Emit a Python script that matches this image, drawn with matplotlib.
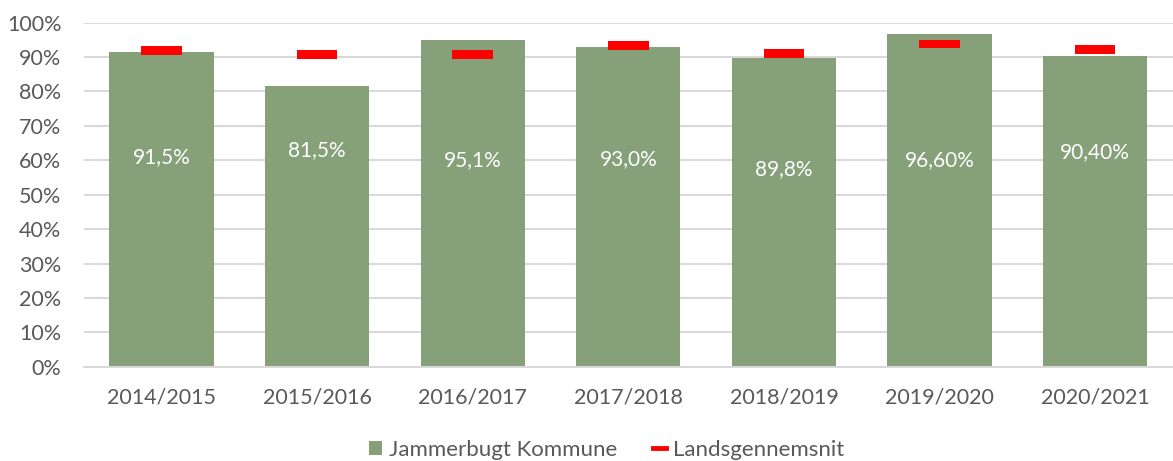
import matplotlib
matplotlib.use("Agg")
import matplotlib.pyplot as plt
from matplotlib.lines import Line2D
from matplotlib.patches import Patch
from matplotlib.ticker import PercentFormatter

plt.rcParams['font.family'] = ['Lato', 'DejaVu Sans']

years = ['2014/2015', '2015/2016', '2016/2017', '2017/2018', '2018/2019', '2019/2020', '2020/2021']
kommune = [91.5, 81.5, 95.1, 93.0, 89.8, 96.6, 90.4]
lands = [91.8, 90.8, 90.8, 93.4, 91.1, 93.8, 92.1]
bar_labels = ['91,5%', '81,5%', '95,1%', '93,0%', '89,8%', '96,60%', '90,40%']
# label heights inside the bars (manually placed in the original)
label_pos = [61, 63, 60, 60.4, 57.5, 60, 62.4]

green = '#86A07A'
grey_txt = '#595959'

fig = plt.figure(figsize=(11.73, 4.61), dpi=100)
ax = fig.add_axes([0.0713, 0.2045, 0.9287, 0.7463])

x = range(len(years))
ax.bar(x, kommune, width=0.67, color=green, zorder=2)
ax.bar(x, [2.6]*len(lands), bottom=[v - 1.3 for v in lands], width=0.26, color='#FF0000', zorder=3)

for i in x:
    ax.text(i, label_pos[i], bar_labels[i], ha='center', va='center', color='white', fontsize=15, zorder=4)

ax.set_xlim(-0.5, 6.5)
ax.set_ylim(0, 100)
ax.set_yticks(range(0, 101, 10))
ax.yaxis.set_major_formatter(PercentFormatter(decimals=0))
ax.set_xticks(list(x))
ax.set_xticklabels(years)
ax.tick_params(axis='both', length=0, labelsize=15.5, labelcolor=grey_txt)
ax.tick_params(axis='x', pad=15)
ax.tick_params(axis='y', pad=16)
ax.grid(axis='y', color='#D9D9D9', linewidth=1.5, zorder=0)
for s in ['top', 'right', 'left']:
    ax.spines[s].set_visible(False)
ax.spines['bottom'].set_color('#D9D9D9')
ax.spines['bottom'].set_linewidth(1.5)

handles = [Patch(facecolor=green, edgecolor='none'),
           Line2D([0], [0], color='#FF0000', linewidth=3.5)]
fig.legend(handles, ['Jammerbugt Kommune', 'Landsgennemsnit'], loc='center',
           bbox_to_anchor=(0.517, 0.024), ncol=2, frameon=False, fontsize=16,
           labelcolor=grey_txt, handlelength=0.6, handleheight=0.6, handletextpad=0.3,
           columnspacing=1.6)

fig.savefig('out.png', dpi=100)
